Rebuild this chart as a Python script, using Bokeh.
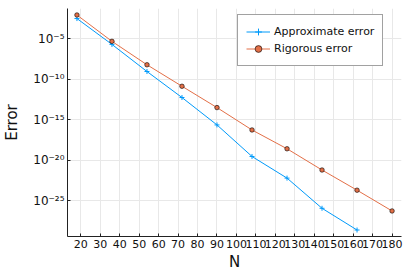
from bokeh.plotting import figure
from bokeh.models import (Range1d, FixedTicker, CustomJSTickFormatter, Legend, LegendItem,
                          ColumnDataSource)
from bokeh.embed import file_html
from bokeh.resources import INLINE

# ---- data ----
n_approx = [18, 36, 54, 72, 90, 108, 126, 144, 162]
log_approx = [-2.52, -5.71, -9.05, -12.26, -15.64, -19.53, -22.2, -25.92, -28.6]
n_rig = [18, 36, 54, 72, 90, 108, 126, 144, 162, 180]
log_rig = [-2.08, -5.33, -8.22, -10.87, -13.5, -16.26, -18.58, -21.2, -23.69, -26.25]
x_ticks = list(range(20, 181, 10))
y_tick_exps = [-5, -10, -15, -20, -25]

err_approx = [10.0 ** v for v in log_approx]
err_rig = [10.0 ** v for v in log_rig]

BLUE = "#009AFA"
ORANGE = "#E36F47"
FONT = "DejaVu Sans"

p = figure(width=409, height=273, y_axis_type="log",
           x_range=Range1d(13.14, 184.86),
           y_range=Range1d(10 ** -29.4, 10 ** -1.28),
           output_backend="svg", toolbar_location=None,
           min_border_left=67, min_border_right=8, min_border_top=8, min_border_bottom=37)
p.outline_line_color = None
p.background_fill_color = "white"
p.border_fill_color = "white"

src_a = ColumnDataSource(dict(x=n_approx, y=err_approx))
src_r = ColumnDataSource(dict(x=n_rig, y=err_rig))

la = p.line("x", "y", source=src_a, line_color=BLUE, line_width=1)
sa = p.scatter("x", "y", source=src_a, marker="cross", size=5, line_color=BLUE, line_width=1)
lr = p.line("x", "y", source=src_r, line_color=ORANGE, line_width=1)
sr = p.scatter("x", "y", source=src_r, marker="circle", size=4.5, fill_color=ORANGE,
               line_color="black", line_width=0.6)

# axes
p.xaxis.ticker = FixedTicker(ticks=x_ticks, minor_ticks=[])
p.yaxis.ticker = FixedTicker(ticks=[10.0 ** e for e in y_tick_exps], minor_ticks=[])
p.yaxis.formatter = CustomJSTickFormatter(code="""
const e = Math.round(Math.log10(tick));
const sup = {'-':'\u207b','0':'\u2070','1':'\u00b9','2':'\u00b2','3':'\u00b3','4':'\u2074',
             '5':'\u2075','6':'\u2076','7':'\u2077','8':'\u2078','9':'\u2079'};
return '10' + String(e).split('').map(c => sup[c]).join('');
""")
for ax in (p.xaxis[0], p.yaxis[0]):
    ax.axis_line_color = "#222222"
    ax.major_tick_line_color = "#222222"
    ax.major_tick_in = 3
    ax.major_tick_out = 0
    ax.minor_tick_line_color = None
    ax.major_label_text_font = FONT
    ax.major_label_text_font_size = "11px"
    ax.major_label_text_color = "#111111"
    ax.axis_label_text_font = FONT
    ax.axis_label_text_font_size = "15px"
    ax.axis_label_text_font_style = "normal"
    ax.axis_label_text_color = "#111111"
    ax.major_label_standoff = 3
p.yaxis.major_label_text_font_size = "12px"
p.xaxis.axis_label = "N"
p.yaxis.axis_label = "Error"
p.xaxis.axis_label_standoff = 2
p.yaxis.axis_label_standoff = 9

p.xgrid.grid_line_color = "#e8e8e8"
p.ygrid.grid_line_color = "#e8e8e8"
p.xgrid.grid_line_width = 1
p.ygrid.grid_line_width = 1

legend = Legend(items=[LegendItem(label="Approximate error", renderers=[la, sa]),
                       LegendItem(label="Rigorous error", renderers=[lr, sr])],
                location=(170, 170))
legend.label_text_font = FONT
legend.label_text_font_size = "11px"
legend.label_text_color = "#111111"
legend.glyph_width = 24
legend.glyph_height = 17
legend.label_height = 17
legend.label_standoff = 4
legend.spacing = 0
legend.padding = 8
legend.margin = 0
legend.border_line_color = "#444444"
legend.border_line_width = 1
legend.background_fill_color = "white"
legend.background_fill_alpha = 1
p.add_layout(legend)

open("out.html", "w").write(file_html(p, INLINE))
